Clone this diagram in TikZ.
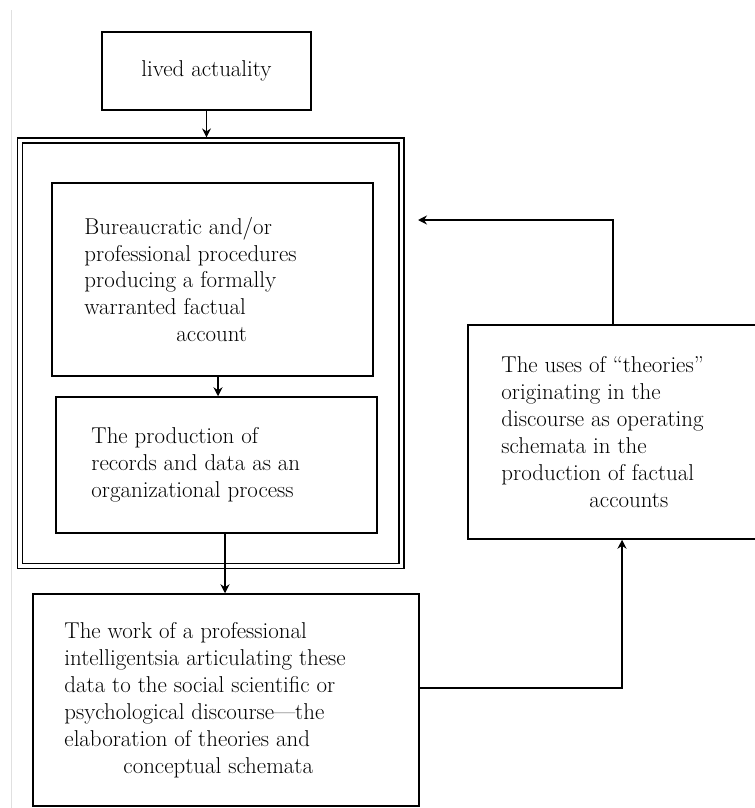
\documentclass[tikz,border=0pt]{standalone}
\usetikzlibrary{arrows.meta,positioning}
\tikzset{
  stage/.style={draw, line width=1.5bp, inner sep=0pt},
  stagetext/.style={align=left, inner sep=0pt, font=\fontsize{23}{27}\selectfont},
  flow/.style={line width=1.4bp, -{Stealth[length=9bp,width=9bp,inset=3bp]}},
}
\begin{document}
\begin{tikzpicture}[x=1bp, y=-1bp]
  \useasboundingbox (0,0) rectangle (755,808);
  % page edge of the scan
  \draw[black!12, line width=0.8bp] (11.5,10) -- (11.5,808);

  \node[stage, minimum width=209bp, minimum height=78bp, font=\fontsize{23}{27}\selectfont] (lived) at (206.5,71) {lived actuality};

  % double frame round the two inner stages
  \node[stage, double, double distance=3.2bp, line width=1.5bp, minimum width=381.5bp, minimum height=425.5bp, outer sep=3.1bp] (frame) at (210.75,353.25) {};

  \node[stage, minimum width=321bp, minimum height=193bp] (proc) at (212.5,279.5) {};
  \node[stagetext, right=33bp of proc.west] (proctext) {Bureaucratic and/or\\professional procedures\\producing a formally\\warranted factual\\\hspace*{92bp}account};

  \node[stage, minimum width=321bp, minimum height=136bp] (rec) at (216.5,465) {};
  \node[stagetext, right=36bp of rec.west] (rectext) {The production of\\records and data as an\\organizational process};

  \node[stage, minimum width=386bp, minimum height=212bp] (work) at (226,700) {};
  \node[stagetext, right=32bp of work.west] (worktext) {The work of a professional\\intelligentsia articulating these\\data to the social scientific or\\psychological discourse—the\\elaboration of theories and\\\hspace*{59bp}conceptual schemata};

  \node[stage, minimum width=290bp, minimum height=214bp] (uses) at (613,432) {};
  \node[stagetext, right=34bp of uses.west] (usestext) {The uses of “theories”\\originating in the\\discourse as operating\\schemata in the\\production of factual\\\hspace*{88bp}accounts};

  \coordinate (back) at (418,220);

  \draw[flow] (lived) -- (lived |- frame.north);
  \draw[flow] ([xshift=5.5bp]proc.south) -- ([xshift=5.5bp]proc.south |- rec.north);
  \draw[flow] ([xshift=8.5bp]rec.south) -- ([xshift=8.5bp]rec.south |- work.north);
  \draw[flow] ([yshift=12bp]work.east) -| ([xshift=9bp]uses.south);
  \draw[flow] (uses.north) |- (back);
\end{tikzpicture}
\end{document}
